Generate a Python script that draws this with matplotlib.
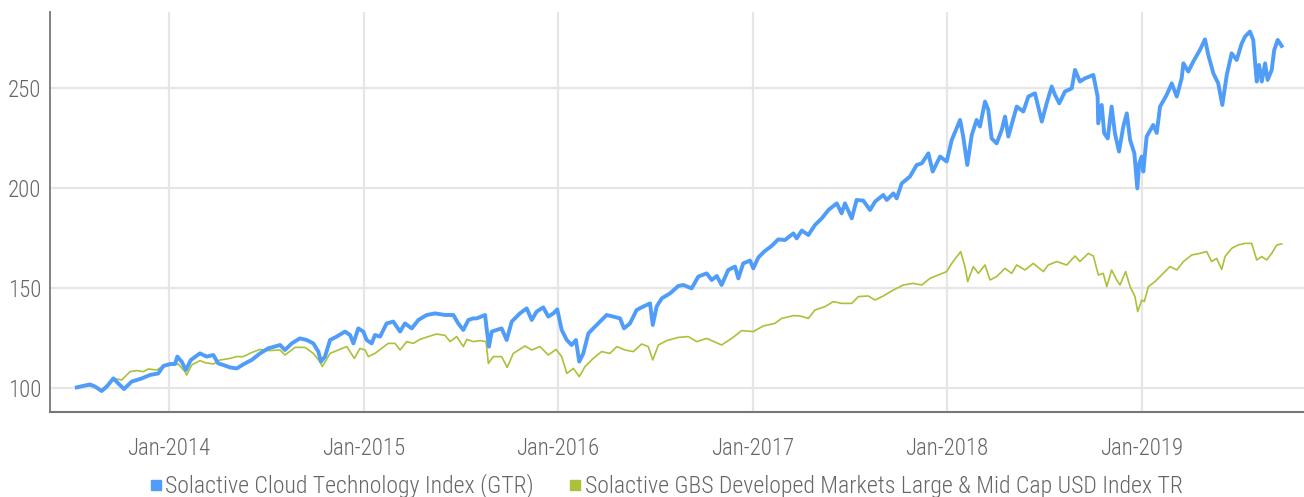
import matplotlib
matplotlib.use("Agg")
import matplotlib.pyplot as plt
from matplotlib.lines import Line2D

# --- DATA (index level, time as decimal year) ---
cloud_t = [2013.526, 2013.594, 2013.620, 2013.654, 2013.680, 2013.714, 2013.739, 2013.769,
           2013.808, 2013.860, 2013.902, 2013.945, 2013.971, 2014.005, 2014.031, 2014.043,
           2014.065, 2014.087, 2014.112, 2014.159, 2014.194, 2014.228, 2014.253, 2014.279,
           2014.314, 2014.348, 2014.391, 2014.425, 2014.468, 2014.510, 2014.571, 2014.596,
           2014.631, 2014.673, 2014.708, 2014.742, 2014.768, 2014.781, 2014.802, 2014.828,
           2014.862, 2014.905, 2014.931, 2014.948, 2014.973, 2014.999, 2015.016, 2015.042,
           2015.059, 2015.085, 2015.119, 2015.153, 2015.188, 2015.213, 2015.248, 2015.282,
           2015.325, 2015.368, 2015.419, 2015.462, 2015.487, 2015.513, 2015.539, 2015.564,
           2015.582, 2015.625, 2015.636, 2015.645, 2015.659, 2015.685, 2015.710, 2015.736,
           2015.762, 2015.804, 2015.839, 2015.865, 2015.890, 2015.924, 2015.950, 2015.976,
           2015.996, 2016.019, 2016.045, 2016.070, 2016.092, 2016.109, 2016.130, 2016.156,
           2016.181, 2016.216, 2016.250, 2016.284, 2016.319, 2016.339, 2016.370, 2016.404,
           2016.438, 2016.473, 2016.487, 2016.507, 2016.533, 2016.576, 2016.618, 2016.644,
           2016.687, 2016.721, 2016.764, 2016.790, 2016.816, 2016.841, 2016.875, 2016.910,
           2016.927, 2016.952, 2016.987, 2017.004, 2017.030, 2017.060, 2017.098, 2017.132,
           2017.167, 2017.210, 2017.227, 2017.253, 2017.287, 2017.321, 2017.356, 2017.390,
           2017.433, 2017.458, 2017.475, 2017.510, 2017.535, 2017.569, 2017.604, 2017.630,
           2017.672, 2017.690, 2017.724, 2017.741, 2017.767, 2017.809, 2017.844, 2017.870,
           2017.904, 2017.926, 2017.964, 2017.998, 2018.024, 2018.067, 2018.083, 2018.104,
           2018.127, 2018.152, 2018.169, 2018.195, 2018.212, 2018.229, 2018.255, 2018.281,
           2018.298, 2018.315, 2018.358, 2018.392, 2018.418, 2018.452, 2018.487, 2018.512,
           2018.538, 2018.555, 2018.577, 2018.606, 2018.641, 2018.658, 2018.683, 2018.709,
           2018.752, 2018.774, 2018.777, 2018.795, 2018.808, 2018.826, 2018.846, 2018.863,
           2018.884, 2018.906, 2018.924, 2018.941, 2018.963, 2018.978, 2018.988, 2019.001,
           2019.009, 2019.026, 2019.060, 2019.078, 2019.095, 2019.129, 2019.155, 2019.181,
           2019.206, 2019.215, 2019.240, 2019.266, 2019.300, 2019.326, 2019.343, 2019.369,
           2019.394, 2019.415, 2019.438, 2019.463, 2019.489, 2019.515, 2019.532, 2019.557,
           2019.574, 2019.592, 2019.604, 2019.618, 2019.635, 2019.648, 2019.669, 2019.682,
           2019.700, 2019.720]
cloud_v = [100.3, 101.8, 100.7, 98.5, 100.7, 104.8, 102.3, 99.5,
           103.2, 104.8, 106.5, 107.3, 111.0, 112.0, 112.0, 115.7,
           113.2, 109.0, 114.0, 117.3, 115.7, 116.5, 112.3, 111.5,
           110.3, 109.8, 112.3, 114.0, 117.3, 119.8, 121.5, 119.0,
           122.3, 124.8, 124.0, 122.3, 118.2, 113.2, 115.7, 124.0,
           125.7, 128.2, 126.5, 122.3, 129.8, 128.2, 124.0, 122.3,
           126.5, 125.7, 132.3, 133.2, 128.2, 132.3, 129.8, 134.0,
           136.5, 137.3, 136.5, 136.5, 132.3, 129.0, 134.0, 134.8,
           134.8, 136.5, 127.3, 120.7, 128.2, 129.0, 129.8, 124.0,
           133.2, 137.3, 139.8, 134.0, 138.2, 140.3, 135.7, 137.3,
           139.3, 129.0, 124.0, 121.5, 124.0, 113.2, 117.3, 127.3,
           129.8, 133.2, 136.5, 135.7, 134.8, 129.8, 132.3, 139.0,
           140.7, 142.3, 131.5, 140.7, 144.8, 147.3, 151.0, 151.5,
           149.8, 155.7, 157.3, 154.0, 156.0, 151.5, 159.0, 160.7,
           154.8, 162.3, 163.7, 159.8, 165.3, 168.2, 171.0, 174.3,
           174.0, 177.3, 174.8, 178.7, 176.5, 181.5, 184.8, 189.0,
           192.3, 187.3, 192.3, 184.8, 194.0, 193.7, 189.0, 193.2,
           196.5, 194.0, 197.3, 194.8, 202.3, 205.7, 211.5, 212.3,
           217.3, 208.2, 215.7, 213.2, 224.0, 234.0, 225.7, 211.5,
           226.5, 234.0, 230.7, 243.2, 239.0, 224.8, 222.3, 229.0,
           235.7, 225.7, 240.7, 238.2, 245.7, 247.3, 233.2, 242.3,
           250.7, 246.5, 242.3, 248.2, 249.8, 259.0, 253.2, 254.8,
           256.5, 245.7, 232.3, 241.5, 227.3, 224.8, 240.7, 227.3,
           218.2, 230.7, 237.3, 224.0, 217.3, 199.8, 212.3, 215.7,
           208.2, 225.7, 231.5, 227.5, 240.7, 246.5, 252.3, 245.7,
           254.8, 262.3, 258.2, 263.2, 269.0, 274.3, 266.5, 257.3,
           252.3, 241.5, 256.5, 267.3, 264.0, 272.3, 275.7, 278.2,
           274.0, 253.2, 261.5, 253.2, 262.3, 254.0, 259.0, 269.0,
           274.0, 271.0]

gbs_t = [2013.534, 2013.559, 2013.611, 2013.654, 2013.714, 2013.757, 2013.800, 2013.834,
         2013.868, 2013.894, 2013.937, 2013.971, 2014.022, 2014.048, 2014.082, 2014.091,
         2014.117, 2014.159, 2014.185, 2014.228, 2014.262, 2014.314, 2014.348, 2014.382,
         2014.425, 2014.468, 2014.510, 2014.571, 2014.596, 2014.648, 2014.699, 2014.742,
         2014.776, 2014.788, 2014.828, 2014.870, 2014.914, 2014.953, 2014.982, 2015.008,
         2015.025, 2015.059, 2015.093, 2015.127, 2015.162, 2015.188, 2015.222, 2015.256,
         2015.290, 2015.333, 2015.376, 2015.419, 2015.445, 2015.479, 2015.513, 2015.531,
         2015.564, 2015.599, 2015.630, 2015.642, 2015.667, 2015.710, 2015.739, 2015.770,
         2015.830, 2015.865, 2015.907, 2015.950, 2015.990, 2016.019, 2016.045, 2016.079,
         2016.109, 2016.139, 2016.181, 2016.224, 2016.267, 2016.302, 2016.344, 2016.387,
         2016.430, 2016.464, 2016.487, 2016.516, 2016.559, 2016.618, 2016.670, 2016.713,
         2016.764, 2016.841, 2016.893, 2016.944, 2017.004, 2017.055, 2017.115, 2017.150,
         2017.210, 2017.244, 2017.287, 2017.321, 2017.373, 2017.415, 2017.458, 2017.510,
         2017.544, 2017.595, 2017.630, 2017.672, 2017.724, 2017.775, 2017.826, 2017.870,
         2017.912, 2017.955, 2017.998, 2018.024, 2018.070, 2018.092, 2018.106, 2018.135,
         2018.161, 2018.195, 2018.221, 2018.255, 2018.298, 2018.332, 2018.358, 2018.401,
         2018.443, 2018.495, 2018.520, 2018.564, 2018.615, 2018.658, 2018.683, 2018.726,
         2018.752, 2018.778, 2018.803, 2018.821, 2018.846, 2018.872, 2018.889, 2018.918,
         2018.941, 2018.966, 2018.980, 2019.001, 2019.014, 2019.035, 2019.069, 2019.103,
         2019.146, 2019.181, 2019.215, 2019.258, 2019.300, 2019.335, 2019.360, 2019.386,
         2019.412, 2019.429, 2019.463, 2019.497, 2019.532, 2019.566, 2019.592, 2019.618,
         2019.643, 2019.669, 2019.695, 2019.720]
gbs_v = [100.7, 101.5, 100.7, 99.0, 104.8, 104.0, 108.2, 108.7,
         108.2, 109.5, 109.0, 111.0, 111.5, 112.0, 108.2, 106.5,
         111.5, 113.7, 112.7, 112.0, 114.0, 114.8, 115.7, 115.7,
         117.7, 119.3, 118.7, 119.0, 116.5, 120.3, 120.3, 117.3,
         113.2, 110.7, 117.3, 119.0, 120.7, 114.8, 119.8, 119.0,
         115.7, 117.3, 119.8, 122.3, 122.3, 119.0, 123.2, 122.3,
         124.3, 125.7, 127.0, 126.3, 123.2, 125.7, 120.7, 124.3,
         123.2, 123.7, 123.2, 112.3, 115.7, 115.7, 110.3, 117.3,
         121.0, 119.0, 120.7, 116.5, 119.3, 115.7, 107.3, 109.8,
         105.7, 110.7, 114.8, 118.2, 117.3, 120.7, 119.0, 118.2,
         122.0, 120.7, 114.0, 121.5, 123.7, 125.3, 125.7, 123.2,
         124.8, 121.5, 124.8, 128.7, 128.2, 131.0, 132.3, 134.8,
         136.2, 136.0, 134.8, 139.0, 140.7, 143.2, 142.3, 142.3,
         145.7, 146.0, 144.0, 146.0, 149.0, 151.5, 152.3, 151.5,
         154.8, 156.5, 158.2, 162.3, 168.2, 160.7, 153.2, 160.7,
         157.3, 161.5, 154.0, 155.7, 159.8, 157.3, 161.5, 159.0,
         162.3, 158.2, 161.5, 163.2, 161.5, 166.0, 163.2, 167.3,
         166.0, 156.5, 157.3, 150.7, 159.0, 154.0, 151.5, 158.2,
         150.7, 145.7, 138.2, 144.0, 143.2, 150.7, 153.2, 156.5,
         160.7, 159.0, 163.2, 166.5, 167.3, 168.2, 163.2, 164.8,
         159.3, 165.7, 169.8, 171.5, 172.3, 172.3, 164.0, 165.7,
         164.0, 167.3, 171.5, 172.0]

years = [2014, 2015, 2016, 2017, 2018, 2019]
year_labels = ["Jan-2014", "Jan-2015", "Jan-2016", "Jan-2017", "Jan-2018", "Jan-2019"]
y_ticks = [100, 150, 200, 250]

names = ["Solactive Cloud Technology Index (GTR)",
         "Solactive GBS Developed Markets Large & Mid Cap USD Index TR"]

# --- STYLE ---
BLUE = "#4f9cf9"
GREEN = "#a9c23a"
TXT = "#666666"
# narrow fonts first, whichever is installed
plt.rcParams['font.family'] = ['Roboto Condensed', 'Liberation Sans Narrow',
                               'DejaVu Sans Condensed', 'Open Sans Condensed',
                               'Roboto', 'DejaVu Sans']
plt.rcParams['font.weight'] = 'light'

fig = plt.figure(figsize=(13.04, 4.97), dpi=100)
ax = fig.add_axes([0.0383, 0.171, 0.9617, 0.805])

ax.plot(gbs_t, gbs_v, color=GREEN, linewidth=1.2, zorder=3)
ax.plot(cloud_t, cloud_v, color=BLUE, linewidth=2.8, zorder=4)

ax.set_xlim(2013.388, 2019.835)
ax.set_ylim(88, 288)
ax.set_xticks(years)
ax.set_xticklabels(year_labels)
ax.set_yticks(y_ticks)

ax.grid(True, color="#e6e6e6", linewidth=1.6)
ax.set_axisbelow(True)
ax.tick_params(length=0, labelsize=16.5, colors=TXT)
ax.tick_params(axis='x', pad=18)
ax.tick_params(axis='y', pad=6)

for s in ["top", "right"]:
    ax.spines[s].set_visible(False)
ax.spines["left"].set_color("#777777")
ax.spines["left"].set_linewidth(1.3)
ax.spines["bottom"].set_color("#777777")
ax.spines["bottom"].set_linewidth(1.5)

handles = [Line2D([], [], marker='s', linestyle='none', color=BLUE, markersize=7),
           Line2D([], [], marker='s', linestyle='none', color=GREEN, markersize=7)]
fig.legend(handles, names, loc='center', bbox_to_anchor=(0.511, 0.022), ncol=2,
           frameon=False, fontsize=17.1, labelcolor=TXT, handlelength=0.5,
           handletextpad=0.15, columnspacing=1.5, borderaxespad=0)

fig.savefig("out.png", dpi=100)
